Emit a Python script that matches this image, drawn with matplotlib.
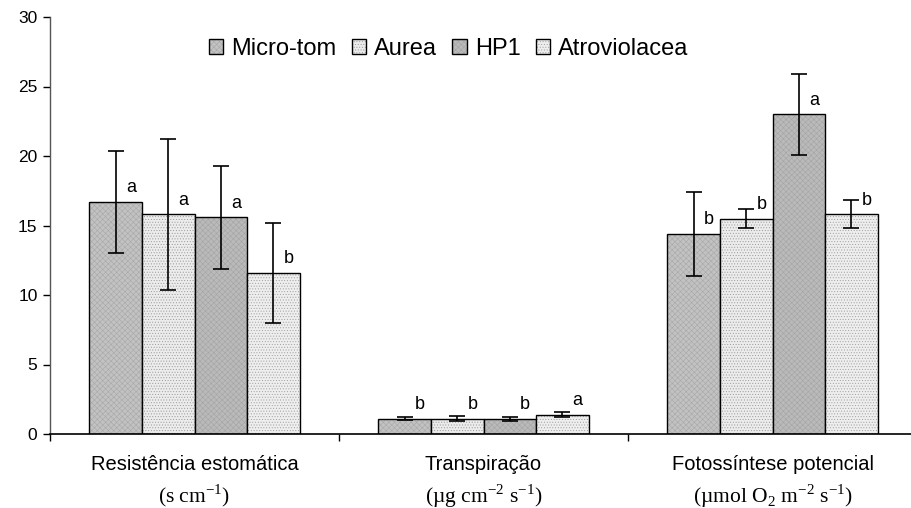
import numpy as np
import matplotlib.pyplot as plt
from matplotlib.transforms import blended_transform_factory, offset_copy

plt.rcParams['font.family'] = ['Liberation Sans', 'DejaVu Sans']
plt.rcParams['mathtext.fontset'] = 'custom'
plt.rcParams['mathtext.rm'] = 'Liberation Serif'
plt.rcParams['hatch.linewidth'] = 0.4

categories = ['Resistência estomática', 'Transpiração', 'Fotossíntese potencial']
units = ['(s cm$^{-1}$)', '(µg cm$^{-2}$ s$^{-1}$)', '(µmol O$_{2}$ m$^{-2}$ s$^{-1}$)']
genotypes = ['Micro-tom', 'Aurea', 'HP1', 'Atroviolacea']

micro_tom = [16.7, 1.1, 14.4]
aurea = [15.8, 1.1, 15.5]
hp1 = [15.6, 1.1, 23.0]
atroviolacea = [11.6, 1.4, 15.8]

micro_tom_err = [3.65, 0.1, 3.0]
aurea_err = [5.45, 0.2, 0.7]
hp1_err = [3.7, 0.15, 2.9]
atroviolacea_err = [3.6, 0.15, 1.0]

micro_tom_sig = ['a', 'b', 'b']
aurea_sig = ['a', 'b', 'b']
hp1_sig = ['a', 'b', 'a']
atroviolacea_sig = ['b', 'a', 'b']

series = [micro_tom, aurea, hp1, atroviolacea]
errors = [micro_tom_err, aurea_err, hp1_err, atroviolacea_err]
letters = [micro_tom_sig, aurea_sig, hp1_sig, atroviolacea_sig]
faces = ['#c2c2c2', '#ececec', '#bababa', '#eeeeee']
hatches = ['xxxxxx', '......', 'xxxxxx', '......']
hatch_cols = ['#a8a8a8', '#9a9a9a', '#a4a4a4', '#a0a0a0']

fig = plt.figure(figsize=(9.11, 5.08), dpi=100)
ax = fig.add_axes([50 / 911, 1 - 434 / 508, 867 / 911, (434 - 17) / 508])

x = np.arange(len(categories))
w = 0.182
for i in range(4):
    pos = x + (i - 1.5) * w
    bars = ax.bar(pos, series[i], w, facecolor=faces[i], edgecolor='black',
                  linewidth=1.0, hatch=hatches[i], label=genotypes[i], zorder=2)
    for b in bars:
        b._hatch_color = plt.matplotlib.colors.to_rgba(hatch_cols[i])
    ax.errorbar(pos, series[i], yerr=errors[i], fmt='none', ecolor='black',
                elinewidth=1.2, capsize=5.5, capthick=1.2, zorder=3)
    for px, v, s in zip(pos, series[i], letters[i]):
        ax.annotate(s, (px, v), xytext=(11, 4), textcoords='offset points',
                    ha='center', va='bottom', fontsize=13)

ax.set_xlim(-0.5, 2.5)
ax.set_ylim(0, 30)
ax.set_yticks(range(0, 31, 5))
ax.tick_params(axis='y', labelsize=12.5, direction='out', length=5, width=1, pad=4)
ax.set_xticks([-0.5, 0.5, 1.5])
ax.set_xticklabels([])
ax.tick_params(axis='x', direction='out', length=5, width=1)
for sp in ['top', 'right']:
    ax.spines[sp].set_visible(False)
ax.spines['left'].set_color('#555555')
ax.spines['left'].set_linewidth(1.0)
ax.spines['bottom'].set_linewidth(1.2)

trans = blended_transform_factory(ax.transData, ax.transAxes)
for xi, c, u in zip(x, categories, units):
    ax.text(xi, 0, c, transform=offset_copy(trans, fig=fig, y=-31, units='dots'),
            ha='center', va='center', fontsize=14.5)
    ax.text(xi, 0, u, transform=offset_copy(trans, fig=fig, y=-62, units='dots'),
            ha='center', va='center', fontsize=15.5, family='Liberation Serif')

ax.legend(loc='upper center', bbox_to_anchor=(0.46, 1.0), ncol=4, frameon=False,
          fontsize=17, handlelength=0.6, handleheight=0.6, handletextpad=0.35,
          columnspacing=0.65)

fig.savefig('out.png', dpi=100)
